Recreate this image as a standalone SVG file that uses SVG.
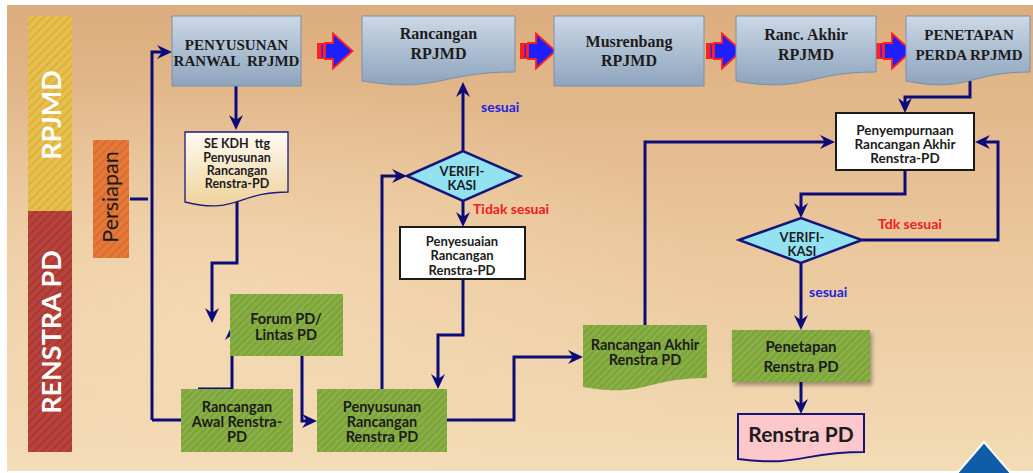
<svg xmlns="http://www.w3.org/2000/svg" width="1033" height="473" viewBox="0 0 1033 473">
<style>
.topbox{fill:url(#blueG);stroke:#7890ab;stroke-width:1}
.serif{font-family:"Liberation Serif",serif;font-weight:bold;fill:#1c1c1c;text-anchor:middle}
.sans{font-family:Lato,"Open Sans",sans-serif;font-weight:bold;fill:#1c1c1c;text-anchor:middle}
.conn{fill:none;stroke:#0c0c78;stroke-width:3}
.arr{marker-end:url(#ah)}
.white{fill:#ffffff;stroke:#1a1a1a;stroke-width:2}
.dia{fill:#92e2f2;stroke:#14147a;stroke-width:2.5}
.green{fill:url(#stripeG)}
.lblB{font-family:Lato,"Open Sans",sans-serif;font-weight:bold;fill:#2424e0;font-size:14px}
.lblR{font-family:Lato,"Open Sans",sans-serif;font-weight:bold;fill:#ee2020;font-size:14px}
.side{font-family:Lato,"Open Sans",sans-serif;font-weight:bold;fill:#ffffff;font-size:27px;text-anchor:middle}
</style>
<defs>
<linearGradient id="bgG" x1="0" y1="0" x2="0" y2="1">
<stop offset="0" stop-color="#dcad7e"/>
<stop offset="0.5" stop-color="#eac69b"/>
<stop offset="1" stop-color="#f3dcb6"/>
</linearGradient>
<radialGradient id="bgL" cx="0.2" cy="0.65" r="0.5">
<stop offset="0" stop-color="#f6ddb8" stop-opacity="0.7"/>
<stop offset="1" stop-color="#f6ddb8" stop-opacity="0"/>
</radialGradient>
<linearGradient id="blueG" x1="0" y1="0" x2="0" y2="1">
<stop offset="0" stop-color="#cbd8e6"/>
<stop offset="1" stop-color="#8ea4bd"/>
</linearGradient>
<linearGradient id="creamG" x1="0" y1="0" x2="0" y2="1">
<stop offset="0" stop-color="#fffbf2"/>
<stop offset="1" stop-color="#efd29a"/>
</linearGradient>
<pattern id="stripeG" patternUnits="userSpaceOnUse" width="5" height="5" patternTransform="rotate(45)">
<rect width="5" height="5" fill="#7ea53c"/><rect width="2" height="5" fill="#8ab247"/>
</pattern>
<pattern id="stripeY" patternUnits="userSpaceOnUse" width="6" height="6" patternTransform="rotate(45)">
<rect width="6" height="6" fill="#e7c04c"/><rect width="2" height="6" fill="#dcb040"/>
</pattern>
<pattern id="stripeR" patternUnits="userSpaceOnUse" width="6" height="6" patternTransform="rotate(45)">
<rect width="6" height="6" fill="#b8423c"/><rect width="2" height="6" fill="#a83832"/>
</pattern>
<pattern id="stripeO" patternUnits="userSpaceOnUse" width="6" height="6" patternTransform="rotate(45)">
<rect width="6" height="6" fill="#e4793a"/><rect width="2" height="6" fill="#d86c30"/>
</pattern>
<marker id="ah" markerUnits="userSpaceOnUse" markerWidth="16" markerHeight="16" viewBox="0 -8 16 16" refX="11" refY="0" orient="auto">
<path d="M0,-7 L15,0 L0,7 L5,0 Z" fill="#0c0c78"/>
</marker>
<filter id="sh" x="-10%" y="-10%" width="130%" height="140%">
<feDropShadow dx="2" dy="3" stdDeviation="2" flood-color="#000" flood-opacity="0.35"/>
</filter>
<g id="blockArrow">
<rect x="0" y="43" width="8" height="16" fill="#ff2020"/>
<rect x="4.5" y="44.5" width="1.3" height="13" fill="#1e1eff"/>
<path d="M8,43 H16 V33.5 L35.5,51 L16,68.5 V59 H8 Z" fill="#1e1eff" stroke="#ff2020" stroke-width="1.8"/>
</g>
</defs>

<rect width="1033" height="473" fill="#ffffff"/>
<rect x="7" y="5" width="1026" height="466" fill="url(#bgG)"/>
<rect x="7" y="5" width="1026" height="466" fill="url(#bgL)"/>

<g id="lane-rpjmd">
<rect x="28" y="16" width="44" height="195" fill="url(#stripeY)"/>
<text class="side" transform="translate(61,115) rotate(-90)">RPJMD</text>
</g>
<g id="lane-renstra">
<rect x="28" y="211" width="44" height="241" fill="url(#stripeR)"/>
<text class="side" transform="translate(61,332) rotate(-90)">RENSTRA PD</text>
</g>
<g id="persiapan">
<rect x="93" y="140" width="36" height="118" fill="url(#stripeO)"/>
<text transform="translate(118,197) rotate(-90)" style="font-family:Lato,'Open Sans',sans-serif;font-size:21.5px;fill:#1a1a1a;text-anchor:middle">Persiapan</text>
</g>

<g id="connectors">
<path class="conn" d="M130,199 H148"/>
<path class="conn arr" d="M152,420 V52 H168"/>
<path class="conn" d="M152,420 H181"/>
<path class="conn arr" d="M236,86 V126"/>
<path class="conn arr" d="M237,201 V263 H212 V319"/>
<path class="conn arr" d="M198,389 H232 V329"/>
<path class="conn arr" d="M302,356 V421 H313"/>
<path class="conn arr" d="M382,389 V176 H403"/>
<path class="conn arr" d="M463,151 V86"/>
<path class="conn arr" d="M463,201 V223"/>
<path class="conn arr" d="M463,279 V335 H438 V385"/>
<path class="conn arr" d="M447,420 H514 V357 H579"/>
<path class="conn arr" d="M645,325 V142 H831"/>
<path class="conn arr" d="M970,81 V97 H905 V109"/>
<path class="conn arr" d="M905,170 V194 H801 V214"/>
<path class="conn arr" d="M862,240 H998 V142 H979"/>
<path class="conn arr" d="M801,263 V326"/>
<path class="conn arr" d="M801,382 V410"/>
</g>

<g id="block-arrows">
<use href="#blockArrow" x="317"/>
<use href="#blockArrow" x="520"/>
<use href="#blockArrow" x="706"/>
<use href="#blockArrow" x="876"/>
</g>

<g id="n-penyusunan-ranwal">
<rect class="topbox" x="172" y="16" width="129" height="70"/>
<text class="serif" font-size="15" x="236.5" y="50">PENYUSUNAN</text>
<text class="serif" font-size="15" x="236.5" y="66" xml:space="preserve">RANWAL  RPJMD</text>
</g>
<g id="n-rancangan-rpjmd">
<path class="topbox" d="M362,16 H515 V72 C438.5,72 438.5,93.5 362,81 Z"/>
<text class="serif" font-size="16" x="438.5" y="39">Rancangan</text>
<text class="serif" font-size="16" x="438.5" y="59">RPJMD</text>
</g>
<g id="n-musrenbang">
<rect class="topbox" x="554" y="16" width="150" height="70"/>
<text class="serif" font-size="16" x="629" y="47">Musrenbang</text>
<text class="serif" font-size="16" x="629" y="66">RPJMD</text>
</g>
<g id="n-ranc-akhir">
<path class="topbox" d="M736,16 H876 V72 C806,72 806,93.5 736,81 Z"/>
<text class="serif" font-size="16" x="806" y="40">Ranc. Akhir</text>
<text class="serif" font-size="16" x="806" y="60">RPJMD</text>
</g>
<g id="n-penetapan-perda">
<path class="topbox" d="M906,16 H1030 V72 C968,72 968,93.5 906,81 Z"/>
<text class="serif" font-size="15" x="969" y="40">PENETAPAN</text>
<text class="serif" font-size="15" x="969" y="60">PERDA RPJMD</text>
</g>

<g id="n-se-kdh">
<path d="M185,132 H288 V192 C236.5,192 236.5,215 185,202 Z" fill="url(#creamG)" stroke="#1a1a80" stroke-width="1.3"/>
<text class="sans" font-size="12.5" x="237" y="148" xml:space="preserve">SE KDH  ttg</text>
<text class="sans" font-size="12.5" x="237" y="161.5">Penyusunan</text>
<text class="sans" font-size="12.5" x="237" y="174.5">Rancangan</text>
<text class="sans" font-size="12.5" x="237" y="188">Renstra-PD</text>
</g>

<g id="n-forum">
<rect class="green" x="230" y="294" width="113" height="62"/>
<text class="sans" font-size="14.5" x="286" y="324">Forum PD/</text>
<text class="sans" font-size="14.5" x="286" y="340">Lintas PD</text>
</g>
<g id="n-rancangan-awal">
<rect class="green" x="181" y="389" width="112" height="63"/>
<text class="sans" font-size="14.5" x="237" y="412">Rancangan</text>
<text class="sans" font-size="14.5" x="237" y="427">Awal Renstra-</text>
<text class="sans" font-size="14.5" x="237" y="442">PD</text>
</g>
<g id="n-penyusunan-rancangan">
<rect class="green" x="317" y="389" width="130" height="63"/>
<text class="sans" font-size="14.5" x="382" y="412">Penyusunan</text>
<text class="sans" font-size="14.5" x="382" y="427">Rancangan</text>
<text class="sans" font-size="14.5" x="382" y="442">Renstra PD</text>
</g>

<g id="n-verifikasi-1">
<polygon class="dia" points="407,176 463,151 520,176 463,201"/>
<text class="sans" font-size="13" x="462" y="176">VERIFI-</text>
<text class="sans" font-size="13" x="462" y="190">KASI</text>
</g>
<g id="n-penyesuaian">
<rect class="white" x="400" y="227" width="125" height="52"/>
<text class="sans" font-size="13" x="462" y="246">Penyesuaian</text>
<text class="sans" font-size="13" x="462" y="260">Rancangan</text>
<text class="sans" font-size="13" x="462" y="274.5">Renstra-PD</text>
</g>

<g id="n-rancangan-akhir-renstra">
<path class="green" d="M583,325 H707 V378 C645,378 645,398 583,387 Z"/>
<text class="sans" font-size="14.5" x="645" y="349.5">Rancangan Akhir</text>
<text class="sans" font-size="14.5" x="645" y="365">Renstra PD</text>
</g>

<g id="n-penyempurnaan">
<rect class="white" x="836" y="113" width="138" height="57"/>
<text class="sans" font-size="13.5" x="905" y="135">Penyempurnaan</text>
<text class="sans" font-size="13.5" x="905" y="149">Rancangan Akhir</text>
<text class="sans" font-size="13.5" x="905" y="163">Renstra-PD</text>
</g>
<g id="n-verifikasi-2">
<polygon class="dia" points="739,240 801,218 862,240 801,263"/>
<text class="sans" font-size="13" x="802" y="242">VERIFI-</text>
<text class="sans" font-size="13" x="802" y="256">KASI</text>
</g>
<g id="n-penetapan-renstra">
<rect class="green" x="732" y="330" width="138" height="52" filter="url(#sh)"/>
<text class="sans" font-size="15" x="801" y="352">Penetapan</text>
<text class="sans" font-size="15" x="801" y="372">Renstra PD</text>
</g>
<g id="n-renstra-pd">
<path d="M738,414 H864 V452 C801,452 801,467 738,459 Z" fill="#fcc8cc" stroke="#14147a" stroke-width="2"/>
<text class="sans" font-size="21" x="801" y="442">Renstra PD</text>
</g>

<g id="labels">
<text class="lblB" x="481" y="112">sesuai</text>
<text class="lblR" x="473" y="214">Tidak sesuai</text>
<text class="lblR" x="878" y="229">Tdk sesuai</text>
<text class="lblB" x="809" y="297">sesuai</text>
</g>

<polygon points="984,442 953,478 1015,478" fill="#0e5da6" stroke="#ffffff" stroke-width="2"/>
</svg>
